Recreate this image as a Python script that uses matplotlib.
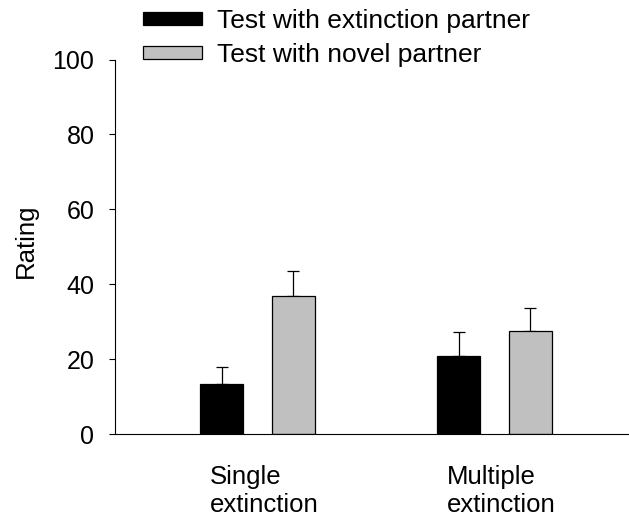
import matplotlib
matplotlib.use("Agg")
import matplotlib.pyplot as plt
import matplotlib.transforms as mtransforms
import numpy as np

plt.rcParams['font.family'] = ['Liberation Sans', 'DejaVu Sans']

groups = ["Single\nextinction", "Multiple\nextinction"]
series_names = ["Test with extinction partner", "Test with novel partner"]
extinction_means = [13.3, 20.7]
extinction_err = [4.7, 6.5]
novel_means = [36.8, 27.6]
novel_err = [6.8, 6.0]
colors = ["#000000", "#C0C0C0"]
yticks = [0, 20, 40, 60, 80, 100]

fig = plt.figure(figsize=(6.29, 5.16), dpi=100)
ax = fig.add_axes([115/629, (516-434)/516, (628-115)/629, (434-59.5)/516])

x = np.arange(len(groups))
w = 0.181
off = 0.151
for i, (m, e, c, name) in enumerate([(extinction_means, extinction_err, colors[0], series_names[0]),
                                      (novel_means, novel_err, colors[1], series_names[1])]):
    pos = x + (-off if i == 0 else off)
    ax.bar(pos, m, width=w, color=c, edgecolor='black', linewidth=0.9, label=name, zorder=2)
    ax.errorbar(pos, m, yerr=[np.zeros(len(m)), e], fmt='none', ecolor='black',
                elinewidth=0.9, capsize=4.2, capthick=0.9, zorder=1)

ax.set_xlim(-0.601, 1.563)
ax.set_ylim(0, 100)
ax.set_yticks(yticks)
ax.tick_params(axis='y', labelsize=18, length=4.3, width=0.8, direction='out', pad=10.5)
ax.set_xticks(x)
ax.set_xticklabels(groups, fontsize=18.5, multialignment='left', linespacing=1.2)
ax.tick_params(axis='x', length=0, pad=22.5)
offset = mtransforms.ScaledTranslation(7/100, 0, fig.dpi_scale_trans)
for lab in ax.get_xticklabels():
    lab.set_transform(lab.get_transform() + offset)
for s in ['top', 'right']:
    ax.spines[s].set_visible(False)
ax.spines['left'].set_linewidth(0.8)
ax.spines['bottom'].set_linewidth(0.8)
ax.set_ylabel("Rating", fontsize=18.5)
ax.yaxis.set_label_coords(-0.150, 0.517)

leg = fig.legend(loc='upper left', bbox_to_anchor=(140/629, 1 - 6.5/516), frameon=False,
                 fontsize=19, handlelength=2.24, handleheight=0.4, handletextpad=0.57,
                 labelspacing=0.36, borderaxespad=0, borderpad=0.1)

fig.savefig("out.png", dpi=100)
